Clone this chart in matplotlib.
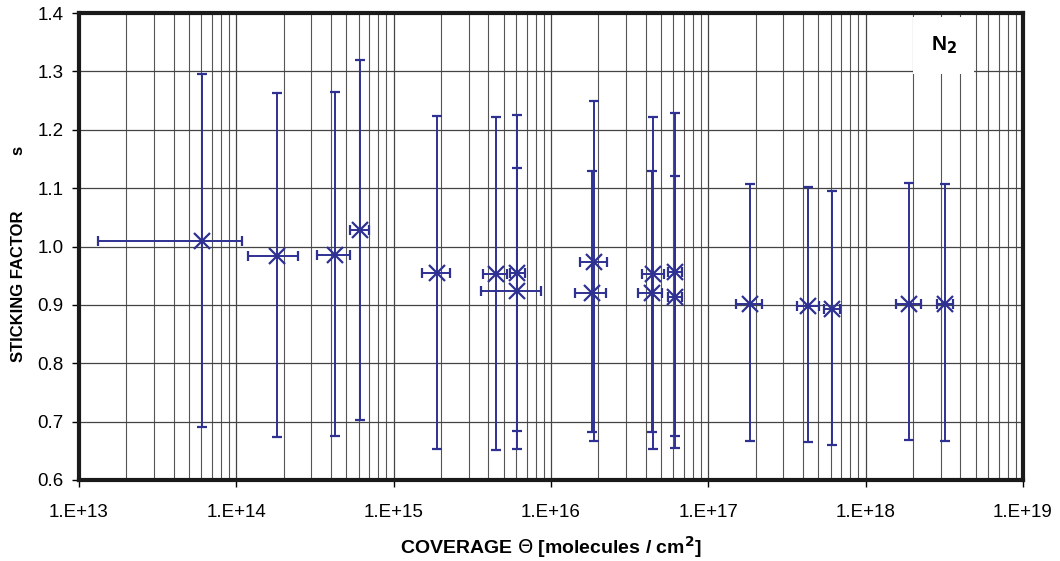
import numpy as np
import matplotlib.pyplot as plt
from matplotlib.ticker import LogLocator, FixedLocator, NullFormatter

plt.rcParams['font.family'] = ['Liberation Sans', 'DejaVu Sans']

# coverage [molecules / cm^2] with lower / upper bounds
coverage = [6.08e13, 1.82e14, 4.24e14, 6.08e14, 1.89e15, 4.47e15, 6.05e15, 6.05e15,
            1.88e16, 1.82e16, 4.43e16, 4.38e16, 6.11e16, 6.11e16,
            1.83e17, 4.32e17, 6.11e17, 1.89e18, 3.18e18]
cov_lo = [1.32e13, 1.19e14, 3.27e14, 5.26e14, 1.51e15, 3.71e15, 5.48e15, 3.59e15,
          1.53e16, 1.42e16, 3.77e16, 3.59e16, 5.52e16, 5.52e16,
          1.50e17, 3.67e17, 5.43e17, 1.56e18, 2.85e18]
cov_hi = [1.09e14, 2.48e14, 5.27e14, 6.97e14, 2.28e15, 5.22e15, 6.83e15, 8.63e15,
          2.26e16, 2.24e16, 5.25e16, 5.09e16, 6.81e16, 6.81e16,
          2.18e17, 5.02e17, 6.87e17, 2.24e18, 3.57e18]

# sticking factor with lower / upper bounds
stick = [1.009, 0.984, 0.986, 1.028, 0.954, 0.953, 0.955, 0.924,
         0.973, 0.921, 0.953, 0.921, 0.957, 0.913,
         0.901, 0.898, 0.893, 0.902, 0.902]
stick_lo = [0.690, 0.674, 0.675, 0.703, 0.653, 0.651, 0.653, 0.684,
            0.667, 0.682, 0.653, 0.682, 0.655, 0.675,
            0.667, 0.665, 0.660, 0.668, 0.667]
stick_hi = [1.295, 1.263, 1.265, 1.319, 1.223, 1.222, 1.225, 1.135,
            1.249, 1.130, 1.222, 1.130, 1.228, 1.121,
            1.107, 1.102, 1.095, 1.108, 1.107]

x = np.array(coverage)
y = np.array(stick)
xerr = [x - np.array(cov_lo), np.array(cov_hi) - x]
yerr = [y - np.array(stick_lo), np.array(stick_hi) - y]

BLUE = '#2e3192'

fig = plt.figure(figsize=(10.6, 5.61), dpi=100)
ax = fig.add_axes([79 / 1060, 1 - 480 / 561, (1023 - 79) / 1060, (480 - 13) / 561])

ax.errorbar(x, y, xerr=xerr, yerr=yerr, fmt='x', color=BLUE, ecolor=BLUE,
            markersize=12, markeredgewidth=1.6, elinewidth=1.4,
            capsize=3.5, capthick=1.4, zorder=3)

ax.set_xscale('log')
ax.set_xlim(1e13, 1e19)
ax.set_ylim(0.6, 1.4)

ax.xaxis.set_minor_locator(LogLocator(base=10, subs=np.arange(2, 10), numticks=100))
ax.xaxis.set_minor_formatter(NullFormatter())
ax.set_xticks([10.0 ** e for e in range(13, 20)])
ax.set_xticklabels([f"1.E+{e}" for e in range(13, 20)])
ax.yaxis.set_major_locator(FixedLocator(np.arange(0.6, 1.41, 0.1)))
ax.set_yticklabels([f"{v:.1f}" for v in np.arange(0.6, 1.41, 0.1)])

# grid
ax.grid(which='major', axis='both', color='#444444', linewidth=0.9, zorder=0)
ax.grid(which='minor', axis='x', color='#555555', linewidth=0.8, zorder=0)
ax.set_axisbelow(True)

ax.tick_params(axis='both', which='major', direction='out', length=5, width=1,
               color='black', labelsize=13.5, pad=6)
ax.tick_params(axis='x', which='minor', length=0)
ax.tick_params(axis='x', which='major', pad=12)

for sp in ax.spines.values():
    sp.set_linewidth(3)
    sp.set_color('#1a1a1a')

ax.set_ylabel('STICKING FACTOR            s', fontsize=12, fontweight='bold')
ax.yaxis.set_label_coords(-0.056, 0.484)
ax.set_xlabel('COVERAGE $\\Theta$ [molecules / cm$^{\\mathbf{2}}$]', fontsize=14,
              fontweight='bold', labelpad=10)

ax.text(0.916, 0.930, 'N$_\\mathbf{2}$', transform=ax.transAxes, fontsize=15,
        fontweight='bold', ha='center', va='center', zorder=4,
        bbox=dict(boxstyle='square,pad=0.85', facecolor='white', edgecolor='none'))

fig.savefig('out.png', dpi=100)
